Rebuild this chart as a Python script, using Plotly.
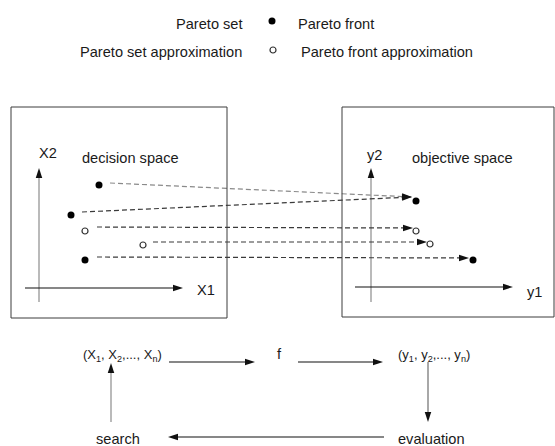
import plotly.graph_objects as go

W, H = 555, 446
FONT = "Liberation Sans, Arial, sans-serif"
FS = 14.6

# ---- legend ----
legend_left = ["Pareto set", "Pareto set approximation"]
legend_right = ["Pareto front", "Pareto front approximation"]
legend_marker_x = [272, 273]
legend_marker_y = [21, 50]
legend_text_y = [24, 52]
legend_left_x = [245, 244]
legend_right_x = [296, 299]

# ---- decision space points (x, y in diagram units) ----
dec_x = [99, 71, 85, 143, 85]
dec_y = [185, 215, 231, 245, 260]
dec_filled = [True, True, False, False, True]

# ---- objective space points ----
obj_x = [416, 416, 430, 473]
obj_y = [201, 231, 244, 260]
obj_filled = [True, False, False, True]

# ---- mapping (dashed arrows) ----
map_x0 = [110, 82, 97, 153, 97]
map_y0 = [183, 212, 227, 242, 257]
map_x1 = [412, 412, 413, 427, 469]
map_y1 = [197, 197, 228, 242, 258]
map_color = ["#8a8a8a", "#3a3a3a", "#3a3a3a", "#3a3a3a", "#3a3a3a"]

# ---- boxes ----
box_x0 = [11, 342]
box_y0 = [107, 107]
box_x1 = [227, 554]
box_y1 = [318, 317]

# ---- axis / flow arrows: start -> tip ----
arr_x0 = [39, 25, 371, 355, 169, 298, 428, 384, 111]
arr_y0 = [302, 288, 302, 287, 362, 362, 362, 437, 422]
arr_x1 = [39, 183, 371, 513, 255, 383, 428, 168, 111]
arr_y1 = [168, 288, 168, 287, 362, 362, 422, 437, 363]
arr_color = ["#8c8c8c", "#111111", "#8c8c8c", "#111111", "#111111", "#111111",
             "#6e6e6e", "#111111", "#8c8c8c"]

# ---- labels ----
labels = ["X2", "decision space", "X1", "y2", "objective space", "y1",
          "(X<sub>1</sub>, X<sub>2</sub>,..., X<sub>n</sub>)", "f",
          "(y<sub>1</sub>, y<sub>2</sub>,..., y<sub>n</sub>)", "search", "evaluation"]
label_x = [37, 80, 195, 365, 410, 525, 81, 275, 396, 94, 396]
label_y = [153, 158, 290, 155, 158, 292, 355, 354, 355, 439, 439]
label_size = [FS, FS, FS, FS, FS, FS, 13, FS, 13, FS, FS]

fig = go.Figure()

# boxes
for x0, y0, x1, y1 in zip(box_x0, box_y0, box_x1, box_y1):
    fig.add_shape(type="rect", x0=x0, y0=y0, x1=x1, y1=y1,
                  line=dict(color="#3c3c3c", width=1), fillcolor="rgba(0,0,0,0)")

ARROW = dict(symbol="arrow", angleref="previous", size=10.5, color="#111111",
             standoff=0, line=dict(width=0))

# axis & flow arrows
for x0, y0, x1, y1, c in zip(arr_x0, arr_y0, arr_x1, arr_y1, arr_color):
    fig.add_trace(go.Scatter(x=[x0, x1], y=[y0, y1], mode="lines+markers",
                             line=dict(color=c, width=1.2), marker=ARROW,
                             hoverinfo="skip"))

# dashed mapping arrows
for x0, y0, x1, y1, c in zip(map_x0, map_y0, map_x1, map_y1, map_color):
    fig.add_trace(go.Scatter(x=[x0, x1], y=[y0, y1], mode="lines+markers",
                             line=dict(color=c, width=1.2, dash="5px,3px"),
                             marker=ARROW, hoverinfo="skip"))


def pts(xs, ys, filled):
    fx = [x for x, f in zip(xs, filled) if f]
    fy = [y for y, f in zip(ys, filled) if f]
    hx = [x for x, f in zip(xs, filled) if not f]
    hy = [y for y, f in zip(ys, filled) if not f]
    fig.add_trace(go.Scatter(x=fx, y=fy, mode="markers",
                             marker=dict(size=7, color="#000000",
                                         line=dict(width=0)), hoverinfo="skip"))
    fig.add_trace(go.Scatter(x=hx, y=hy, mode="markers",
                             marker=dict(size=6, color="#ffffff",
                                         line=dict(width=1.2, color="#333333")),
                             hoverinfo="skip"))


pts(dec_x, dec_y, dec_filled)
pts(obj_x, obj_y, obj_filled)
pts(legend_marker_x, legend_marker_y, [True, False])

annotations = []
# legend text
for t, x, y in zip(legend_left, legend_left_x, legend_text_y):
    annotations.append(dict(x=x, y=y, xref="x", yref="y", text=t, showarrow=False,
                            xanchor="right", yanchor="middle",
                            font=dict(family=FONT, size=FS, color="#1a1a1a")))
for t, x, y in zip(legend_right, legend_right_x, legend_text_y):
    annotations.append(dict(x=x, y=y, xref="x", yref="y", text=t, showarrow=False,
                            xanchor="left", yanchor="middle",
                            font=dict(family=FONT, size=FS, color="#1a1a1a")))

for t, x, y, s in zip(labels, label_x, label_y, label_size):
    annotations.append(dict(x=x, y=y, xref="x", yref="y", text=t, showarrow=False,
                            xanchor="left", yanchor="middle",
                            font=dict(family=FONT, size=s, color="#1a1a1a")))

fig.update_layout(
    width=W, height=H, autosize=False,
    margin=dict(l=0, r=0, t=0, b=0),
    paper_bgcolor="white", plot_bgcolor="white",
    showlegend=False,
    xaxis=dict(range=[0, W], visible=False, fixedrange=True),
    yaxis=dict(range=[H, 0], visible=False, fixedrange=True),
    annotations=annotations,
)

fig.write_html("out.html", config={"displayModeBar": False},
               post_script="document.body.style.margin='0';document.body.style.overflow='hidden';")
